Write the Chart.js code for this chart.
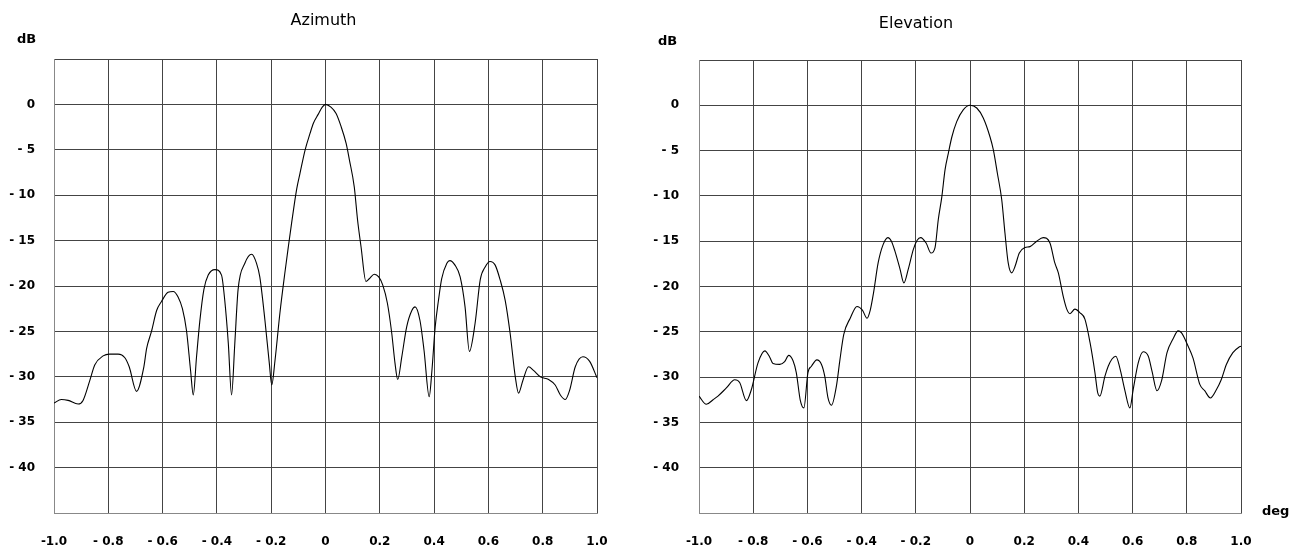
<!DOCTYPE html>
<html>
<head>
<meta charset="utf-8">
<title>Azimuth / Elevation antenna pattern</title>
<script src="https://cdn.jsdelivr.net/npm/chart.js@4/dist/chart.umd.min.js"></script>
<style>
  body { margin: 0; background: #fff; }
  #wrap { position: relative; width: 1300px; height: 549px; }
  canvas { position: absolute; top: 0; }
</style>
</head>
<body>
<div id="wrap">
  <canvas id="azChart" width="650" height="549" style="left:0"></canvas>
  <canvas id="elChart" width="650" height="549" style="left:650px"></canvas>
</div>
<script>
const azX = [
  -1.0, -0.973, -0.948, -0.911, -0.893, -0.868, -0.85, -0.819, -0.795, -0.764,
  -0.739, -0.723, -0.696, -0.669, -0.659, -0.641, -0.622, -0.604, -0.58, -0.561,
  -0.543, -0.527, -0.512, -0.497, -0.487, -0.475, -0.463, -0.448, -0.432, -0.407,
  -0.383, -0.371, -0.358, -0.346, -0.334, -0.322, -0.297, -0.272, -0.254, -0.242,
  -0.223, -0.207, -0.198, -0.186, -0.168, -0.149, -0.137, -0.125, -0.106, -0.094,
  -0.075, -0.057, -0.045, -0.027, -0.012, 0.0, 0.02, 0.039, 0.057, 0.076,
  0.088, 0.106, 0.118, 0.131, 0.149, 0.161, 0.18, 0.196, 0.211, 0.228,
  0.244, 0.256, 0.266, 0.281, 0.299, 0.318, 0.33, 0.348, 0.363, 0.382,
  0.392, 0.404, 0.416, 0.428, 0.447, 0.458, 0.477, 0.496, 0.514, 0.53,
  0.551, 0.57, 0.588, 0.606, 0.625, 0.643, 0.662, 0.68, 0.699, 0.711,
  0.727, 0.748, 0.766, 0.791, 0.822, 0.846, 0.865, 0.883, 0.899, 0.92,
  0.948, 0.973, 1.0
];
const azDb = [
  -32.9, -32.5, -32.6, -33.0, -32.6, -30.4, -28.7, -27.7, -27.5, -27.5,
  -27.9, -28.9, -31.6, -28.9, -26.9, -25.0, -22.7, -21.7, -20.7, -20.6,
  -21.2, -22.5, -24.9, -29.3, -32.0, -27.8, -23.9, -20.4, -18.8, -18.2,
  -18.8, -21.6, -26.3, -32.0, -26.3, -20.4, -17.5, -16.5, -17.5, -19.0,
  -23.8, -28.5, -30.9, -28.2, -23.0, -18.4, -15.7, -13.1, -9.3, -7.6,
  -5.0, -3.2, -2.1, -1.1, -0.3, 0.0, -0.3, -1.0, -2.4, -4.3,
  -6.1, -9.1, -12.7, -15.7, -19.5, -19.2, -18.7, -19.0, -19.9, -21.9,
  -25.2, -28.5, -30.3, -27.8, -24.5, -22.7, -22.3, -23.8, -27.1, -32.2,
  -29.3, -24.5, -21.6, -19.2, -17.5, -17.2, -17.7, -19.0, -22.3, -27.2,
  -24.1, -19.3, -17.9, -17.3, -17.7, -19.3, -21.6, -25.2, -30.0, -31.8,
  -30.4, -28.9, -29.3, -30.0, -30.3, -30.9, -32.0, -32.5, -31.5, -28.9,
  -27.8, -28.3, -30.1
];

const elX = [
  -1.0, -0.973, -0.948, -0.93, -0.899, -0.868, -0.85, -0.825, -0.807, -0.782,
  -0.757, -0.739, -0.727, -0.702, -0.684, -0.669, -0.653, -0.641, -0.626, -0.613,
  -0.598, -0.585, -0.565, -0.548, -0.536, -0.524, -0.511, -0.493, -0.48, -0.466,
  -0.442, -0.417, -0.397, -0.38, -0.368, -0.356, -0.339, -0.321, -0.303, -0.29,
  -0.277, -0.258, -0.244, -0.228, -0.209, -0.195, -0.182, -0.162, -0.144, -0.129,
  -0.117, -0.104, -0.092, -0.08, -0.067, -0.049, -0.025, 0.0, 0.025, 0.049,
  0.074, 0.086, 0.101, 0.117, 0.129, 0.141, 0.154, 0.166, 0.182, 0.203,
  0.221, 0.246, 0.27, 0.295, 0.313, 0.326, 0.344, 0.357, 0.369, 0.387,
  0.406, 0.424, 0.443, 0.461, 0.471, 0.479, 0.498, 0.51, 0.524, 0.538,
  0.553, 0.571, 0.59, 0.602, 0.621, 0.639, 0.658, 0.672, 0.69, 0.707,
  0.727, 0.749, 0.768, 0.78, 0.805, 0.823, 0.848, 0.866, 0.887, 0.909,
  0.927, 0.946, 0.97, 0.992, 1.0
];
const elDb = [
  -32.1, -33.0, -32.5, -32.1, -31.2, -30.3, -30.6, -32.6, -31.4, -28.4,
  -27.1, -27.8, -28.5, -28.6, -28.3, -27.6, -28.2, -29.5, -32.6, -33.4,
  -29.5, -28.8, -28.1, -28.6, -29.9, -32.3, -33.1, -31.0, -28.1, -25.3,
  -23.5, -22.2, -22.6, -23.5, -22.6, -20.7, -17.4, -15.4, -14.6, -15.0,
  -16.1, -18.1, -19.6, -18.1, -15.9, -14.9, -14.6, -15.2, -16.3, -15.7,
  -12.6, -10.1, -7.1, -5.3, -3.5, -1.8, -0.5, 0.0, -0.3, -1.4,
  -3.5, -4.9, -7.5, -10.4, -14.1, -17.4, -18.5, -17.8, -16.3, -15.7,
  -15.6, -15.0, -14.6, -15.2, -17.4, -18.5, -21.1, -22.5, -23.0, -22.5,
  -22.9, -23.6, -26.2, -29.5, -31.7, -32.1, -29.9, -28.8, -28.0, -27.7,
  -29.0, -31.4, -33.4, -31.4, -28.4, -27.2, -27.7, -29.4, -31.5, -30.4,
  -27.3, -25.8, -24.9, -25.1, -26.6, -27.9, -30.8, -31.5, -32.3, -31.4,
  -30.3, -28.6, -27.3, -26.7, -26.6
];

// axis ticks
const xTickValues = [-1.0, -0.8, -0.6, -0.4, -0.2, 0, 0.2, 0.4, 0.6, 0.8, 1.0];
const xTickLabels = ['-1.0', '- 0.8', '- 0.6', '- 0.4', '- 0.2', '0', '0.2', '0.4', '0.6', '0.8', '1.0'];
const yTickValues = [0, -5, -10, -15, -20, -25, -30, -35, -40];
const yTickLabels = ['0', '- 5', '- 10', '- 15', '- 20', '- 25', '- 30', '- 35', '- 40'];

function labelFor(values, labels, v) {
  for (let i = 0; i < values.length; i++) {
    if (Math.abs(values[i] - v) < 1e-6) return labels[i];
  }
  return '';
}

const textPlugin = {
  id: 'patternText',
  afterDraw(chart) {
    const t = chart.options.plugins.patternText;
    const c = chart.ctx;
    c.save();
    c.fillStyle = '#000';
    c.textBaseline = 'alphabetic';
    c.font = '16px "DejaVu Sans"';
    c.textAlign = 'center';
    c.fillText(t.title, t.titleX, t.titleY);
    c.font = 'bold 13px "DejaVu Sans"';
    c.textAlign = 'left';
    c.fillText('dB', t.dbX, t.dbY);
    if (t.degX) c.fillText('deg', t.degX, t.degY);
    c.restore();
  }
};

function drawPattern(id, xs, ys, box, text) {
  const ctx = document.getElementById(id).getContext('2d');
  const points = xs.map((x, i) => ({ x: x, y: ys[i] }));
  const tickFont = { family: '"DejaVu Sans"', size: 12, weight: 'bold' };
  return new Chart(ctx, {
    type: 'scatter',
    data: {
      datasets: [{
        data: points,
        showLine: true,
        borderColor: '#000',
        borderWidth: 1.1,
        pointRadius: 0,
        cubicInterpolationMode: 'monotone'
      }]
    },
    options: {
      responsive: false,
      animation: false,
      layout: { padding: { left: 0, top: box.top, right: box.right, bottom: 0 } },
      plugins: {
        legend: { display: false },
        tooltip: { enabled: false },
        patternText: text
      },
      scales: {
        x: {
          type: 'linear',
          min: -1,
          max: 1,
          afterFit: s => { s.height = 36; },
          grid: { color: '#444', drawTicks: false },
          border: { color: '#888' },
          ticks: {
            stepSize: 0.2,
            autoSkip: false,
            maxRotation: 0,
            padding: 22,
            color: '#000',
            font: tickFont,
            callback: v => labelFor(xTickValues, xTickLabels, v)
          }
        },
        y: {
          min: -45,
          max: 5,
          afterFit: s => { s.width = box.left; },
          grid: { color: '#444', drawTicks: false },
          border: { color: '#888' },
          ticks: {
            stepSize: 5,
            padding: box.tickPad,
            color: '#000',
            font: tickFont,
            callback: v => labelFor(yTickValues, yTickLabels, v)
          }
        }
      }
    },
    plugins: [textPlugin]
  });
}

drawPattern('azChart', azX, azDb,
  { left: 54, right: 53, top: 59, tickPad: 19 },
  { title: 'Azimuth', titleX: 323.5, titleY: 25, dbX: 17, dbY: 43 });

drawPattern('elChart', elX, elDb,
  { left: 49, right: 59, top: 60, tickPad: 20 },
  { title: 'Elevation', titleX: 266, titleY: 28, dbX: 8, dbY: 45, degX: 612, degY: 515 });
</script>
</body>
</html>
